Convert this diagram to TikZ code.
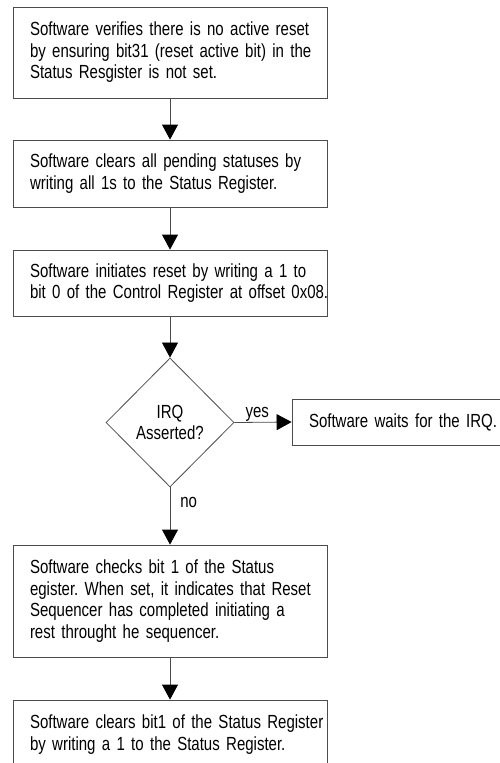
\documentclass[tikz,border=0pt]{standalone}
\usepackage{fontspec}
\setmainfont{Liberation Sans}[FakeStretch=0.79]
\usetikzlibrary{arrows.meta,shapes.geometric}
\newcommand{\fcfont}{\fontsize{19pt}{21.5pt}\selectfont\frenchspacing}
\begin{document}
\begin{tikzpicture}[x=1pt,y=-1pt,
  every node/.style={font=\fcfont},
  stepbox/.style={draw=black!70, line width=0.8pt, text width=314pt, inner xsep=0pt, inner ysep=0pt,
    align=left, execute at begin node={\leftskip=17pt\rightskip=-60pt plus 1fil\hyphenpenalty=10000\relax}},
  sidebox/.style={draw=black!70, line width=0.8pt, text width=208pt, minimum height=46pt, inner xsep=0pt, inner ysep=0pt,
    align=left, execute at begin node={\leftskip=17pt\rightskip=-60pt plus 1fil\hyphenpenalty=10000\relax}},
  decision/.style={draw=black!70, line width=0.8pt, diamond, minimum width=128pt, minimum height=129pt, inner sep=0pt, align=center},
  conn/.style={draw=black!70, line width=0.8pt, -{Triangle[width=16pt,length=15pt,color=black]}},
  lbl/.style={inner sep=0pt}
]
\useasboundingbox (0,0) rectangle (499,763);

\node[stepbox, minimum height=91pt] (b1) at (170,52.5)
  {Software verifies there is no active reset\\by ensuring bit31 (reset active bit) in the\\Status Resgister is not set.};
\node[stepbox, minimum height=67pt] (b2) at (170,173.5)
  {Software clears all pending statuses by\\writing all 1s to the Status Register.};
\node[stepbox, minimum height=66pt] (b3) at (170,283)
  {Software initiates reset by writing a 1 to\\bit 0 of the Control Register at offset 0x08.};
\node[decision] (d) at (170,422.5) {IRQ\\Asserted?};
\node[sidebox] (irq) at (396,422) {Software waits for the IRQ.};
\node[stepbox, minimum height=112pt] (b4) at (170,601)
  {Software checks bit 1 of the Status\\egister. When set, it indicates that Reset\\Sequencer has completed initiating a\\rest throught he sequencer.};
\node[stepbox, minimum height=69pt] (b5) at (170,734.5)
  {Software clears bit1 of the Status Register\\by writing a 1 to the Status Register.};

\draw[conn] (b1) -- (b2);
\draw[conn] (b2) -- (b3);
\draw[conn] (b3) -- (d);
\draw[conn] (d.east) -- node[lbl, above, pos=0.4] {yes} (irq.west);
\draw[conn] (d.south) -- node[lbl, right=10pt, pos=0.26] {no} (b4.north);
\draw[conn] (b4) -- (b5);
\end{tikzpicture}
\end{document}
